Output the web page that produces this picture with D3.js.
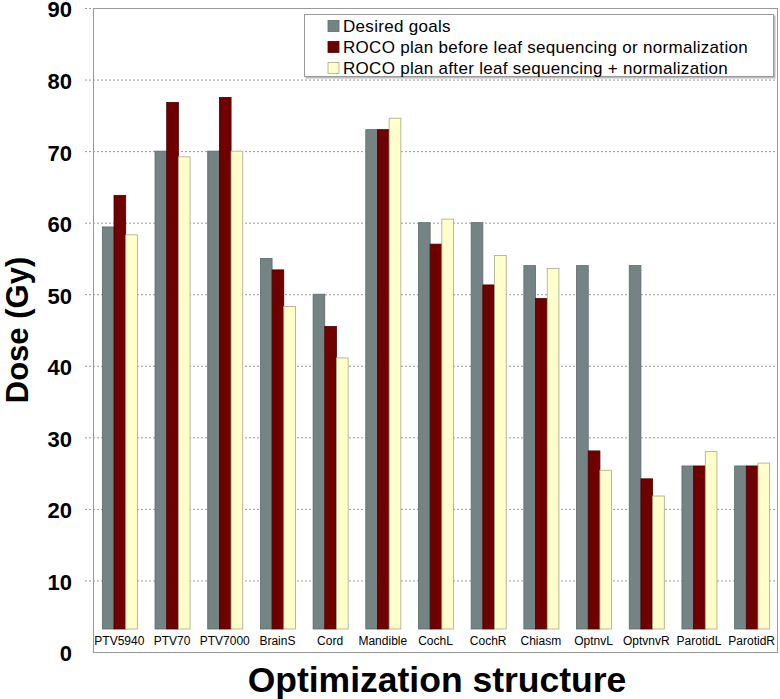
<!DOCTYPE html>
<html>
<head>
<meta charset="utf-8">
<script src="https://cdn.jsdelivr.net/npm/d3@7"></script>
<style>
  body { margin: 0; background: #fff; }
  svg { font-family: "Liberation Sans", Arial, sans-serif; }
</style>
</head>
<body>
<div id="container"></div>
<script>
/* DATA */
const categories = ["PTV5940", "PTV70", "PTV7000", "BrainS", "Cord", "Mandible", "CochL",
  "CochR", "Chiasm", "OptnvL", "OptvnvR", "ParotidL", "ParotidR"];
const desiredGoals = [59.4, 70, 70, 55, 50, 73, 60, 60, 54, 54, 54, 26, 26];
const beforeSequencing = [63.8, 76.8, 77.5, 53.4, 45.5, 73, 57, 51.3, 49.4, 28.1, 24.2, 26, 26];
const afterSequencing = [58.3, 69.2, 70, 48.3, 41.1, 74.6, 60.5, 55.4, 53.6, 25.4, 21.8, 28, 26.4];
const seriesNames = ["Desired goals",
  "ROCO plan before leaf sequencing or normalization",
  "ROCO plan after leaf sequencing + normalization"];
const yTicks = [0, 10, 20, 30, 40, 50, 60, 70, 80, 90];

/* CONSTANTS */
const width = 780, height = 699;
const margin = { top: 8, right: 2, bottom: 47, left: 93 };
const labelBand = 23; // bars stop above the category label strip
const colors = ["#748484", "#6e0000", "#ffffcc"];
const strokes = ["#5d6a6a", "#4a0000", "#a8a88a"];

const series = [desiredGoals, beforeSequencing, afterSequencing];

// SCALES
const xScale = d3.scaleBand()
  .domain(categories)
  .range([margin.left, width - margin.right])
  .paddingInner(0.335)
  .paddingOuter(0.1675);

const xInner = d3.scaleBand()
  .domain(d3.range(series.length))
  .range([0, xScale.bandwidth()]);

const yScale = d3.scaleLinear()
  .domain([0, 90])
  .range([height - margin.bottom, margin.top]);

// SVG
const svg = d3.select("#container")
  .append("svg")
  .attr("width", width)
  .attr("height", height);

// GRIDLINES
svg.append("g")
  .selectAll("line")
  .data(yTicks.filter(d => d > 0))
  .join("line")
  .attr("x1", margin.left - 8)
  .attr("x2", width - margin.right)
  .attr("y1", d => yScale(d) + 0.5)
  .attr("y2", d => yScale(d) + 0.5)
  .attr("stroke", "#999")
  .attr("stroke-dasharray", "2,2");

// BARS
const barBase = yScale(0) - labelBand;
const groups = svg.append("g")
  .selectAll("g")
  .data(categories)
  .join("g")
  .attr("transform", d => `translate(${xScale(d)},0)`);

groups.selectAll("rect")
  .data((c, i) => series.map((s, k) => ({ k, v: s[i] })))
  .join("rect")
  .attr("x", d => xInner(d.k) + 0.5)
  .attr("width", xInner.bandwidth())
  .attr("y", d => yScale(d.v))
  .attr("height", d => barBase - yScale(d.v))
  .attr("fill", d => colors[d.k])
  .attr("stroke", d => strokes[d.k])
  .attr("stroke-width", 0.8);

// PLOT FRAME
svg.append("rect")
  .attr("x", margin.left + 0.5)
  .attr("y", margin.top + 0.5)
  .attr("width", width - margin.right - margin.left - 1)
  .attr("height", yScale(0) - margin.top)
  .attr("fill", "none")
  .attr("stroke", "#999");

// Y AXIS LABELS
svg.append("g")
  .selectAll("text")
  .data(yTicks)
  .join("text")
  .attr("x", 72)
  .attr("y", d => yScale(d) + 9.4)
  .attr("text-anchor", "end")
  .style("font-size", "22px")
  .style("font-weight", "bold")
  .text(d => d);

// CATEGORY LABELS
svg.append("g")
  .selectAll("text")
  .data(categories)
  .join("text")
  .attr("x", d => xScale(d) + xScale.bandwidth() / 2)
  .attr("y", yScale(0) - 7)
  .attr("text-anchor", "middle")
  .style("font-size", "12px")
  .text(d => d);

// AXIS TITLES
svg.append("text")
  .attr("transform", `translate(28,${(margin.top + yScale(0)) / 2}) rotate(-90)`)
  .attr("text-anchor", "middle")
  .style("font-size", "31px")
  .style("font-weight", "bold")
  .text("Dose (Gy)");

svg.append("text")
  .attr("x", 437)
  .attr("y", 692)
  .attr("text-anchor", "middle")
  .style("font-size", "35.5px")
  .style("font-weight", "bold")
  .text("Optimization structure");

// LEGEND
const legend = svg.append("g").attr("transform", "translate(304,14)");
legend.append("rect")
  .attr("x", 1.5).attr("y", 1.5)
  .attr("width", 470).attr("height", 63)
  .attr("fill", "#bbb");
legend.append("rect")
  .attr("x", 0.5).attr("y", 0.5)
  .attr("width", 469).attr("height", 62)
  .attr("fill", "#fff")
  .attr("stroke", "#999");

const items = legend.selectAll("g.item")
  .data(seriesNames)
  .join("g")
  .attr("class", "item")
  .attr("transform", (d, i) => `translate(24,${12 + i * 21})`);

items.append("rect")
  .attr("width", 11).attr("height", 11)
  .attr("y", -5.5)
  .attr("fill", (d, i) => colors[i])
  .attr("stroke", (d, i) => strokes[i])
  .attr("stroke-width", 0.8);

items.append("text")
  .attr("x", 15)
  .attr("dy", "0.36em")
  .style("font-size", "17px")
  .style("letter-spacing", "0.3px")
  .text(d => d);
</script>
</body>
</html>
